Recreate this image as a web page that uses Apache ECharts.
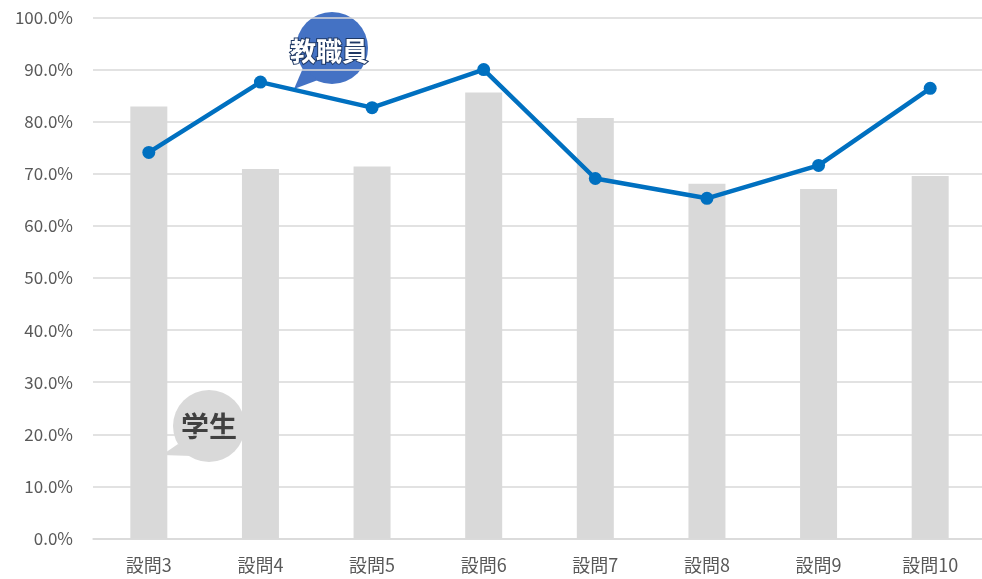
<!DOCTYPE html>
<html><head><meta charset="utf-8">
<script src="https://cdn.jsdelivr.net/npm/echarts@6/dist/echarts.min.js"></script>
<style>html,body{margin:0;padding:0;background:#fff;overflow:hidden}#c{width:986px;height:579px}</style>
</head><body><div id="c"></div>
<script>
const categories = ['設問3','設問4','設問5','設問6','設問7','設問8','設問9','設問10'];
const studentValues = [82.9, 70.9, 71.4, 85.6, 80.7, 68.1, 67.1, 69.6];
const staffValues = [74.1, 87.6, 82.7, 90.0, 69.1, 65.3, 71.6, 86.4];
const studentLabel = '学生';
const staffLabel = '教職員';

const FONT = '"Noto Sans CJK JP", "Noto Sans", sans-serif';
const chart = echarts.init(document.getElementById('c'));
chart.setOption({
  animation: false,
  backgroundColor: '#fff',
  grid: { left: 93, top: 17.5, right: 0, height: 521, containLabel: false },
  xAxis: {
    type: 'category', data: categories,
    axisLine: { show: true, lineStyle: { color: '#D9D9D9', width: 1.5 } },
    axisTick: { show: false },
    axisLabel: { color: '#595959', fontSize: 18, fontFamily: FONT, margin: 18 }
  },
  yAxis: {
    type: 'value', min: 0, max: 100, interval: 10,
    axisLine: { show: false }, axisTick: { show: false },
    axisLabel: { color: '#595959', fontSize: 17, fontFamily: FONT, margin: 20,
      formatter: v => v.toFixed(1) + '%' },
    splitLine: { lineStyle: { color: '#D9D9D9', width: 1.5 } }
  },
  series: [
    { name: studentLabel, type: 'bar', data: studentValues, barWidth: 37,
      itemStyle: { color: '#D9D9D9' }, z: 2 },
    { name: staffLabel, type: 'line', data: staffValues, symbol: 'circle', symbolSize: 13,
      lineStyle: { color: '#0070C0', width: 4.5 }, itemStyle: { color: '#0070C0' }, z: 3 }
  ],
  graphic: [
    { type: 'group', z: 10, children: [
      { type: 'circle', shape: { cx: 332, cy: 48, r: 36 }, style: { fill: '#fff', stroke: '#fff', lineWidth: 4 } },
      { type: 'polygon', shape: { points: [[303,68],[294,89],[318,80]] }, style: { fill: '#fff', stroke: '#fff', lineWidth: 4 } },
      { type: 'circle', shape: { cx: 332, cy: 48, r: 36 }, style: { fill: '#4472C4' } },
      { type: 'polygon', shape: { points: [[303,68],[294,89],[318,80]] }, style: { fill: '#4472C4' } },
      { type: 'text', x: 329, y: 51, style: { text: staffLabel, fill: '#fff', font: 'bold 26px ' + FONT,
        align: 'center', verticalAlign: 'middle', stroke: '#1F3864', lineWidth: 2 } }
    ]},
    { type: 'group', z: 10, children: [
      { type: 'circle', shape: { cx: 209, cy: 426, r: 36 }, style: { fill: '#fff', stroke: '#fff', lineWidth: 4 } },
      { type: 'polygon', shape: { points: [[178,444],[162,455],[192,456]] }, style: { fill: '#fff', stroke: '#fff', lineWidth: 4 } },
      { type: 'circle', shape: { cx: 209, cy: 426, r: 36 }, style: { fill: '#D9D9D9' } },
      { type: 'polygon', shape: { points: [[178,444],[162,455],[192,456]] }, style: { fill: '#D9D9D9' } },
      { type: 'text', x: 209, y: 426, style: { text: studentLabel, fill: '#404040', font: 'bold 28px ' + FONT,
        align: 'center', verticalAlign: 'middle' } }
    ]}
  ]
});
</script></body></html>
